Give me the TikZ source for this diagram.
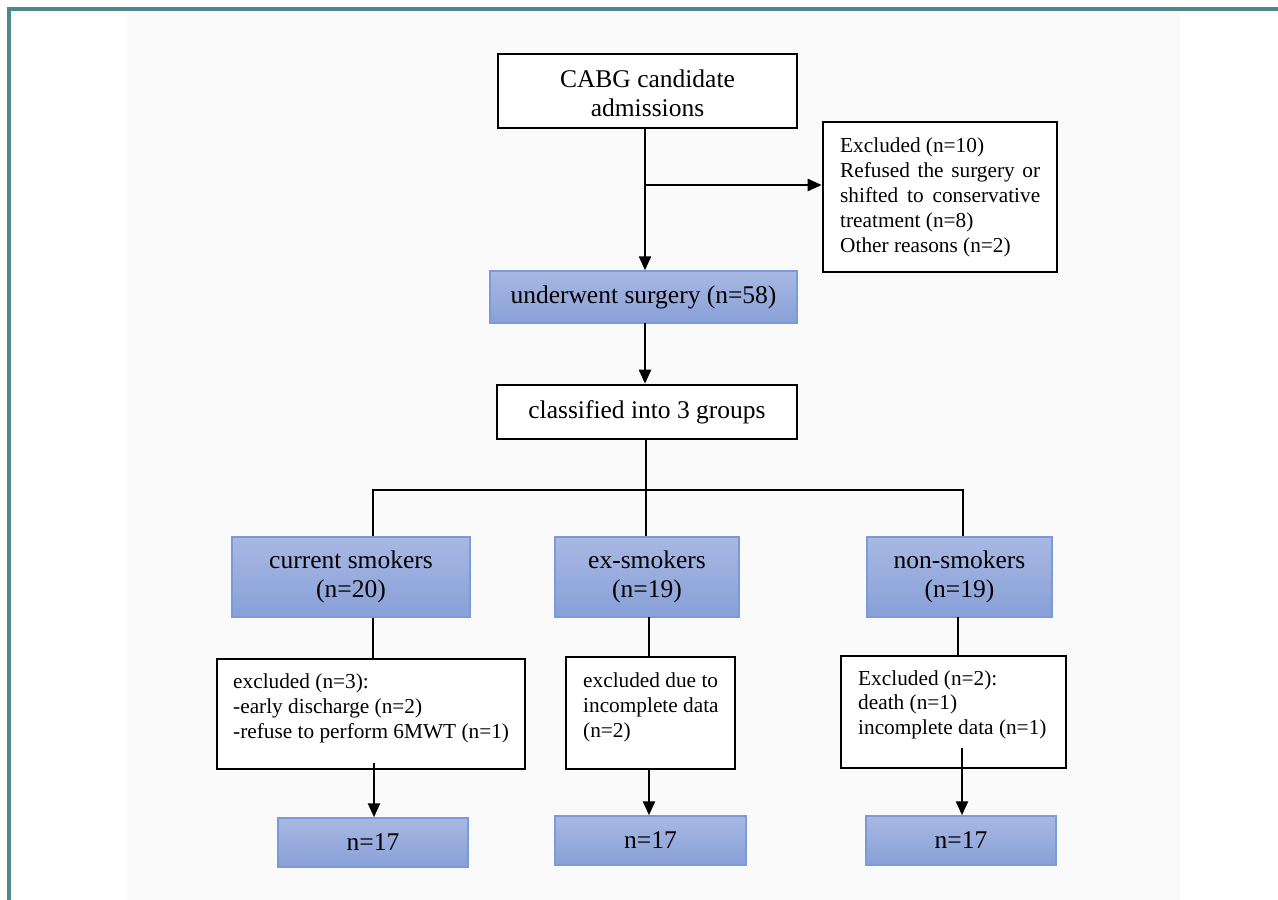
\documentclass[tikz,border=0pt]{standalone}
\usepackage{fontspec}
\setmainfont{Liberation Serif}
\usetikzlibrary{arrows.meta}
\definecolor{frameteal}{RGB}{74,138,138}
\definecolor{bggray}{RGB}{250,250,250}
\definecolor{blueTop}{RGB}{168,184,226}
\definecolor{blueBot}{RGB}{136,160,216}
\definecolor{blueEdge}{RGB}{122,154,216}
\tikzset{
  bigtxt/.style={font=\fontsize{25.5}{29}\selectfont},
  whitebox/.style={draw=black, line width=2.6pt, fill=white, inner sep=0pt, align=center, bigtxt},
  bluebox/.style={draw=blueEdge, line width=1.5pt, top color=blueTop, bottom color=blueBot, inner sep=0pt, align=center, bigtxt},
  smalltxt/.style={anchor=base west, inner sep=0pt},
  conn/.style={line width=2.4pt, draw=black},
  arr/.style={conn, -{Triangle[length=14pt,width=12pt]}}
}
\newcommand{\smallpar}[2]{\parbox[t]{#1}{\fontsize{21.3}{25}\selectfont\raggedright #2}}
\begin{document}
\begin{tikzpicture}[x=1pt,y=-1pt]
\useasboundingbox (0,0) rectangle (1278,900);
\fill[white] (0,0) rectangle (1278,900);
\fill[bggray] (127,11) rectangle (1180,900);
\fill[frameteal] (7,7) rectangle (1278,11);
\fill[frameteal] (7,7) rectangle (11,900);

% top part
\node[whitebox, minimum width=299pt, minimum height=74pt] (cabg) at (647.5,91) {\rule{0pt}{23pt}CABG candidate\\admissions};
\node[whitebox, minimum width=234pt, minimum height=150pt] (excl) at (940,197) {};
\node[smalltxt] (excltxt) at (840,152) {\smallpar{230pt}{Excluded (n=10)\\
\makebox[200pt][s]{Refused the surgery or}\\
\makebox[200pt][s]{shifted to conservative}\\
treatment (n=8)\\
Other reasons (n=2)}};
\node[bluebox, minimum width=307pt, minimum height=52pt] (und) at (643.5,297) {underwent surgery (n=58)};
\node[whitebox, minimum width=300pt, minimum height=54pt] (cls) at (647,412) {classified into 3 groups};

% groups
\node[bluebox, minimum width=238pt, minimum height=80pt] (cs) at (351,577) {current smokers\\(n=20)};
\node[bluebox, minimum width=184pt, minimum height=80pt] (es) at (647,577) {ex-smokers\\(n=19)};
\node[bluebox, minimum width=185pt, minimum height=80pt] (ns) at (959.5,577) {non-smokers\\(n=19)};

% exclusion boxes
\node[whitebox, minimum width=308pt, minimum height=110pt] (ex1) at (371,714) {};
\node[smalltxt] (ex1txt) at (233,688) {\smallpar{300pt}{excluded (n=3):\\-early discharge (n=2)\\-refuse to perform 6MWT (n=1)}};
\node[whitebox, minimum width=169pt, minimum height=112pt] (ex2) at (650.5,713) {};
\node[smalltxt] (ex2txt) at (583,687) {\smallpar{160pt}{excluded due to\\incomplete data\\(n=2)}};
\node[whitebox, minimum width=225pt, minimum height=112pt] (ex3) at (953.5,712) {};
\node[smalltxt] (ex3txt) at (858,685) {\smallpar{220pt}{\fontsize{21.3}{24.5}\selectfont Excluded (n=2):\\death (n=1)\\incomplete data (n=1)}};

% final boxes
\node[bluebox, minimum width=190pt, minimum height=49pt] (f1) at (373,842.5) {n=17};
\node[bluebox, minimum width=191pt, minimum height=49pt] (f2) at (650.5,840.5) {n=17};
\node[bluebox, minimum width=190pt, minimum height=49pt] (f3) at (961,840.5) {n=17};

% connectors top
\coordinate (c0) at (645,128);
\draw[arr] (c0) -- (c0 |- und.north);
\coordinate (br1) at (645,185);
\draw[arr] (br1) -- (br1 -| excl.west);
\coordinate (c1) at (645,323);
\draw[arr] (c1) -- (c1 |- cls.north);

% branching
\coordinate (jm) at (646,490);
\coordinate (j1) at (373,490);
\coordinate (j3) at (963,490);
\draw[conn] (cls.south -| jm) -- (jm);
\draw[conn] ([xshift=-1.2pt]j1) -- ([xshift=1.2pt]j3);
\draw[conn] (j1) -- (j1 |- cs.north);
\draw[conn] (jm) -- (jm |- es.north);
\draw[conn] (j3) -- (j3 |- ns.north);

% group to exclusion
\draw[conn] (cs.south -| j1) -- (ex1.north -| j1);
\coordinate (k2) at (649,617);
\draw[conn] (k2) -- (k2 |- ex2.north);
\coordinate (k3) at (958,617);
\draw[conn] (k3) -- (k3 |- ex3.north);

% exclusion to final
\coordinate (a1) at (374,763);
\draw[arr] (a1) -- (a1 |- f1.north);
\coordinate (a2) at (649,769);
\draw[arr] (a2) -- (a2 |- f2.north);
\coordinate (a3) at (962,748);
\draw[arr] (a3) -- (a3 |- f3.north);
\end{tikzpicture}
\end{document}
